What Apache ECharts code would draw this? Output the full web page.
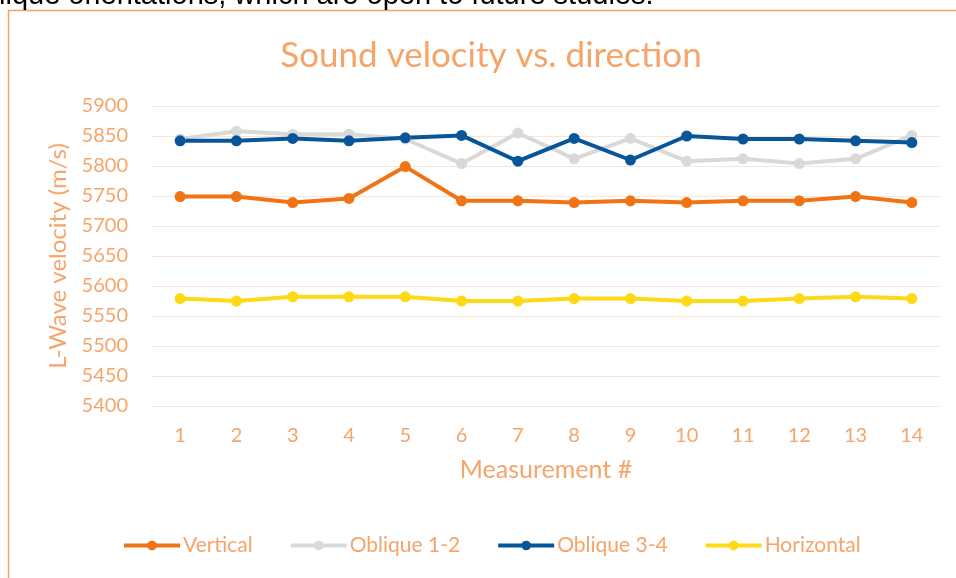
<!DOCTYPE html>
<html>
<head>
<meta charset="utf-8">
<script src="https://cdn.jsdelivr.net/npm/echarts@6/dist/echarts.min.js"></script>
<style>
  html, body { margin: 0; padding: 0; background: #fff; }
  #chart { width: 956px; height: 578px; }
</style>
</head>
<body>
<div id="chart"></div>
<script>
// measurement numbers on the x axis
const measurements = ['1', '2', '3', '4', '5', '6', '7', '8', '9', '10', '11', '12', '13', '14']

// L-wave velocity (m/s) per direction
const vertical = [5749, 5749, 5739, 5746, 5799, 5742, 5742, 5739, 5742, 5739, 5742, 5742, 5749, 5739]
const oblique12 = [5845, 5858, 5853, 5853, 5845, 5804, 5855, 5812, 5846, 5808, 5812, 5804, 5812, 5851]
const oblique34 = [5842, 5842, 5846, 5842, 5847, 5851, 5808, 5846, 5810, 5850, 5845, 5845, 5842, 5839]
const horizontal = [5579, 5575, 5582, 5582, 5582, 5575, 5575, 5579, 5579, 5575, 5575, 5579, 5582, 5579]

const textColor = '#F6A469'
const fontFamily = 'Lato, "Open Sans", sans-serif'

const chartDom = document.getElementById('chart')
const myChart = echarts.init(chartDom)

function lineSeries(name, color, data) {
  return {
    name: name,
    type: 'line',
    data: data,
    symbol: 'circle',
    symbolSize: 11,
    lineStyle: { width: 4, color: color },
    itemStyle: { color: color },
    emphasis: { disabled: true },
  }
}

const option = {
  animation: false,
  textStyle: { fontFamily: fontFamily },
  graphic: [
    {
      type: 'rect',
      shape: { x: 8.5, y: 10.5, width: 1000, height: 700 },
      style: { fill: 'none', stroke: '#F7A05E', lineWidth: 1.5 },
      z: -1,
    },
    {
      type: 'text',
      left: -1,
      top: -19,
      style: {
        text: 'lique orientations, which are open to future studies.',
        font: '29px "Liberation Sans", Arial, sans-serif',
        fill: '#000',
      },
    },
  ],
  title: {
    text: 'Sound velocity vs. direction',
    left: 486,
    top: 33,
    textAlign: 'center',
    textStyle: { color: textColor, fontSize: 35, fontWeight: 'normal', fontFamily: fontFamily },
  },
  legend: {
    left: 122,
    top: 535,
    padding: 0,
    itemWidth: 56,
    itemHeight: 12,
    itemGap: 36,
    lineStyle: { width: 4 },
    textStyle: { color: textColor, fontSize: 21, fontFamily: fontFamily, padding: [0, 0, 0, -2] },
    data: ['Vertical', 'Oblique 1-2', 'Oblique 3-4', 'Horizontal'],
  },
  grid: {
    left: 152,
    right: 16,
    top: 106,
    bottom: 172,
  },
  xAxis: {
    type: 'category',
    data: measurements,
    name: 'Measurement #',
    nameLocation: 'middle',
    nameGap: 51,
    nameTextStyle: { color: textColor, fontSize: 25 },
    axisLine: { show: false },
    axisTick: { show: false },
    axisLabel: { color: textColor, fontSize: 20, margin: 20 },
  },
  yAxis: {
    type: 'value',
    min: 5400,
    max: 5900,
    interval: 50,
    name: 'L-Wave velocity (m/s)',
    nameLocation: 'middle',
    nameGap: 78,
    nameTextStyle: { color: textColor, fontSize: 24 },
    axisLine: { show: false },
    axisTick: { show: false },
    axisLabel: { color: textColor, fontSize: 20, margin: 24, formatter: (v) => String(v) },
    splitLine: { lineStyle: { color: '#FCE3D3', width: 1 } },
  },
  series: [
    lineSeries('Vertical', '#F07415', vertical),
    lineSeries('Oblique 1-2', '#D9D9D9', oblique12),
    lineSeries('Oblique 3-4', '#08569A', oblique34),
    lineSeries('Horizontal', '#FFD816', horizontal),
  ],
}

option && myChart.setOption(option)
</script>
</body>
</html>
